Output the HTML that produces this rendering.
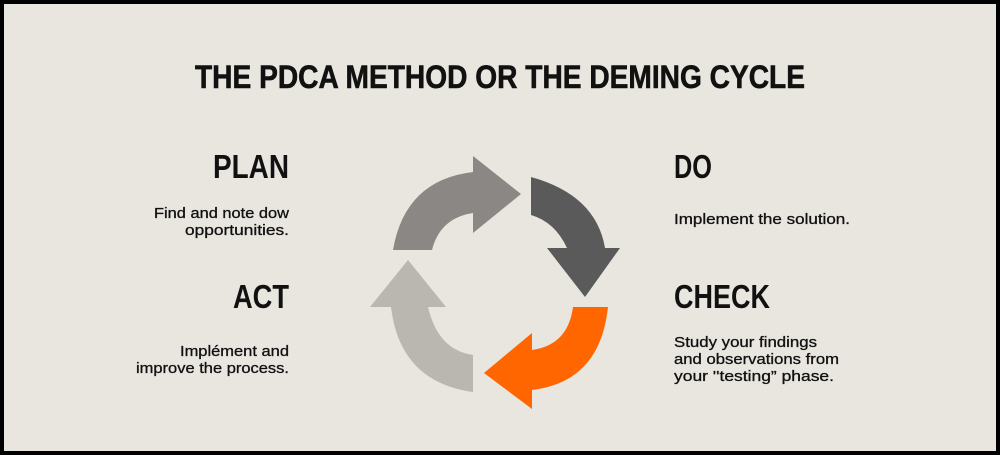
<!DOCTYPE html>
<html><head><meta charset="utf-8"><style>
html,body{margin:0;padding:0;background:#000;}
svg{display:block;}
text{font-family:"Liberation Sans",sans-serif;fill:#111;}
.h{font-weight:bold;font-size:33px;}
.b{font-size:14.5px;stroke:#111;stroke-width:0.3px;}
</style></head><body>
<svg width="1000" height="455" viewBox="0 0 1000 455" xmlns="http://www.w3.org/2000/svg">
<rect x="0" y="0" width="1000" height="455" fill="#000"/>
<rect x="4" y="4" width="992" height="447" fill="#e8e6df"/>
<text class="h" x="195" y="88" textLength="610" lengthAdjust="spacingAndGlyphs" style="font-size:32px;stroke:#111;stroke-width:0.6px">THE PDCA METHOD OR THE DEMING CYCLE</text>

<text class="h" x="213" y="178" textLength="76" lengthAdjust="spacingAndGlyphs">PLAN</text>
<text class="b" x="154" y="218" textLength="135" lengthAdjust="spacingAndGlyphs">Find and note dow</text>
<text class="b" x="185" y="235" textLength="104" lengthAdjust="spacingAndGlyphs">opportunities.</text>

<text class="h" x="674" y="178" textLength="38" lengthAdjust="spacingAndGlyphs">DO</text>
<text class="b" x="674" y="224" textLength="176" lengthAdjust="spacingAndGlyphs">Implement the solution.</text>

<text class="h" x="233" y="308" textLength="56" lengthAdjust="spacingAndGlyphs">ACT</text>
<text class="b" x="180" y="356" textLength="109" lengthAdjust="spacingAndGlyphs">Implément and</text>
<text class="b" x="136" y="373" textLength="153" lengthAdjust="spacingAndGlyphs">improve the process.</text>

<text class="h" x="674" y="308" textLength="96" lengthAdjust="spacingAndGlyphs">CHECK</text>
<text class="b" x="674" y="347" textLength="143" lengthAdjust="spacingAndGlyphs">Study your findings</text>
<text class="b" x="674" y="364" textLength="165" lengthAdjust="spacingAndGlyphs">and observations from</text>
<text class="b" x="674" y="381" textLength="160" lengthAdjust="spacingAndGlyphs">your ''testing” phase.</text>

<path d="M393,250 Q405,180 473,172 L473,156 L521,194 L473,233 L473,213 Q440,218 432,250 Z" fill="#8a8785"/>
<path d="M531,177 Q596,195 605,248 L620,248 L585,297 L547,248 L567,248 Q555,222 531,215 Z" fill="#5a5a5a"/>
<path d="M608,307 Q600,382 532,390 L532,409 L484,373 L532,333 L532,350 Q568,345 573,307 Z" fill="#ff6600"/>
<path d="M473,392 Q400,382 391,307 L370,307 L408,260 L446,307 L428,307 Q438,350 473,355 Z" fill="#bab6b0"/>
</svg>
</body></html>
